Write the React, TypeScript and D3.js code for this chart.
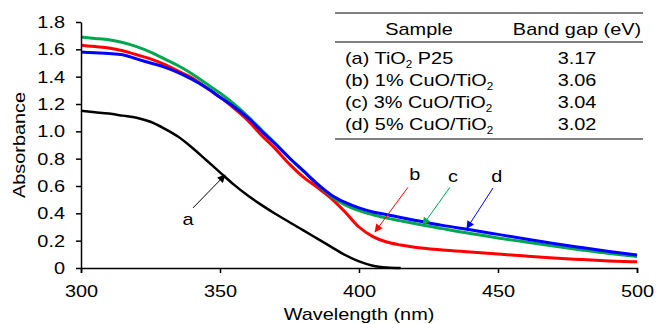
import React, { useEffect, useRef } from "react";
import * as d3 from "d3";

// wavelength grid (nm) for each sample
const waveA = [300, 305, 310, 315, 320, 325, 330, 335, 340, 345, 350, 355, 360, 365, 370, 375, 380, 385, 390, 395, 400, 405, 410, 415];
const absA = [1.15, 1.14, 1.13, 1.115, 1.1, 1.07, 1.02, 0.96, 0.88, 0.79, 0.7, 0.61, 0.53, 0.46, 0.395, 0.335, 0.275, 0.215, 0.155, 0.095, 0.048, 0.017, 0.004, 0];

const waveBCD = [300, 305, 310, 315, 320, 325, 330, 335, 340, 345, 350, 355, 360, 365, 370, 375, 380, 385, 390, 395, 400, 405, 410, 415, 420, 430, 440, 450, 460, 470, 480, 490, 500];
const absB = [1.63, 1.62, 1.61, 1.59, 1.56, 1.53, 1.49, 1.44, 1.39, 1.32, 1.25, 1.17, 1.08, 0.97, 0.87, 0.76, 0.665, 0.59, 0.51, 0.41, 0.3, 0.23, 0.19, 0.168, 0.152, 0.132, 0.117, 0.102, 0.087, 0.073, 0.062, 0.052, 0.045];
const absC = [1.69, 1.68, 1.67, 1.65, 1.62, 1.58, 1.53, 1.48, 1.42, 1.35, 1.28, 1.2, 1.11, 1.01, 0.91, 0.805, 0.71, 0.615, 0.525, 0.462, 0.42, 0.39, 0.365, 0.345, 0.325, 0.288, 0.252, 0.22, 0.19, 0.16, 0.132, 0.106, 0.085];
const absD = [1.58, 1.575, 1.57, 1.56, 1.53, 1.5, 1.47, 1.43, 1.38, 1.32, 1.25, 1.18, 1.1, 1.0, 0.905, 0.805, 0.71, 0.615, 0.535, 0.48, 0.44, 0.41, 0.39, 0.37, 0.35, 0.312, 0.28, 0.246, 0.212, 0.18, 0.15, 0.121, 0.095];

const xTicks = [300, 350, 400, 450, 500];
const yTicks = [0, 0.2, 0.4, 0.6, 0.8, 1.0, 1.2, 1.4, 1.6, 1.8];

// table contents
const sampleLabels = [
  ["(a) TiO", "2", " P25"],
  ["(b) 1% CuO/TiO", "2", ""],
  ["(c) 3% CuO/TiO", "2", ""],
  ["(d) 5% CuO/TiO", "2", ""],
];
const bandGaps = ["3.17", "3.06", "3.04", "3.02"];

// arrow annotations: label, colour, tail, tip and label position in data units
const arrows = [
  { label: "a", color: "#000000", tail: [340.3, 0.44], tip: [351.8, 0.68], text: [338.5, 0.36] },
  { label: "b", color: "#ff0000", tail: [417.6, 0.59], tip: [405.8, 0.265], text: [420.1, 0.69] },
  { label: "c", color: "#00a650", tail: [432.7, 0.59], tip: [423.0, 0.315], text: [433.8, 0.67] },
  { label: "d", color: "#0000ff", tail: [448.2, 0.585], tip: [438.8, 0.29], text: [449.6, 0.67] },
];

const App = () => {
  const svgRef = useRef(null);
  const width = 658;
  const height = 324;
  const marginLeft = 81;
  const marginRight = 21;
  const marginTop = 22;
  const marginBottom = 56;
  const font = "'Liberation Sans', Arial, Helvetica, sans-serif";
  const fs = "17px";
  const sx = 1.17; // the original lettering is a little wider than Arial

  useEffect(() => {
    const svg = d3.select(svgRef.current);
    svg.selectAll("*").remove();

    const x = d3.scaleLinear().domain([300, 500]).range([marginLeft, width - marginRight]);
    const y = d3.scaleLinear().domain([0, 1.8]).range([height - marginBottom, marginTop]);

    const label = (parent, px, py, str, anchor = "start", extra = "") =>
      parent
        .append("text")
        .attr("transform", `translate(${px},${py})${extra} scale(${sx},1)`)
        .attr("text-anchor", anchor)
        .style("font-family", font)
        .style("font-size", fs)
        .text(str);

    // arrowhead markers
    const defs = svg.append("defs");
    arrows.forEach((a, i) => {
      defs
        .append("marker")
        .attr("id", "arr" + i)
        .attr("viewBox", "0 0 10 10")
        .attr("refX", 9)
        .attr("refY", 5)
        .attr("markerWidth", 9)
        .attr("markerHeight", 8)
        .attr("markerUnits", "userSpaceOnUse")
        .attr("orient", "auto")
        .append("path")
        .attr("d", "M0,0 L10,5 L0,10 Z")
        .attr("fill", a.color);
    });

    const line = d3
      .line()
      .x((d) => x(d[0]))
      .y((d) => y(d[1]))
      .curve(d3.curveMonotoneX);

    const series = [
      { w: waveA, v: absA, color: "#000000", sw: 2.5 },
      { w: waveBCD, v: absB, color: "#ff0000", sw: 3 },
      { w: waveBCD, v: absC, color: "#00a650", sw: 3 },
      { w: waveBCD, v: absD, color: "#0000ff", sw: 3 },
    ];
    series.forEach((s) => {
      svg
        .append("path")
        .datum(s.w.map((w, i) => [w, s.v[i]]))
        .attr("fill", "none")
        .attr("stroke", s.color)
        .attr("stroke-width", s.sw)
        .attr("stroke-linejoin", "round")
        .attr("d", line);
    });

    // X axis
    const xAxis = svg
      .append("g")
      .attr("transform", `translate(0,${height - marginBottom})`)
      .call(d3.axisBottom(x).tickValues(xTicks).tickSize(5).tickSizeOuter(5).tickPadding(12));
    xAxis.select(".domain").attr("stroke-width", 1.5);
    xAxis.selectAll(".tick line").attr("stroke-width", 1.5);
    xAxis
      .selectAll("text")
      .attr("transform", `scale(${sx},1)`)
      .style("font-size", fs)
      .style("font-family", font)
      .attr("fill", "#000");

    // Y axis
    const yAxis = svg
      .append("g")
      .attr("transform", `translate(${marginLeft},0)`)
      .call(
        d3
          .axisLeft(y)
          .tickValues(yTicks)
          .tickSize(5)
          .tickSizeOuter(0)
          .tickFormat((d) => (d === 0 ? "0" : d3.format(".1f")(d)))
      );
    yAxis.select(".domain").attr("stroke-width", 1.5);
    yAxis.selectAll(".tick line").attr("stroke-width", 1.5);
    yAxis
      .selectAll("text")
      .attr("x", -16 / sx)
      .attr("transform", `scale(${sx},1)`)
      .style("font-size", fs)
      .style("font-family", font)
      .attr("fill", "#000");

    // axis titles
    label(svg, (marginLeft + width - marginRight) / 2, 320, "Wavelength (nm)", "middle");
    label(svg, 25, (marginTop + height - marginBottom) / 2, "Absorbance", "middle", " rotate(-90)");

    // annotation arrows
    arrows.forEach((a, i) => {
      svg
        .append("line")
        .attr("x1", x(a.tail[0]))
        .attr("y1", y(a.tail[1]))
        .attr("x2", x(a.tip[0]))
        .attr("y2", y(a.tip[1]))
        .attr("stroke", a.color)
        .attr("stroke-width", 1)
        .attr("marker-end", `url(#arr${i})`);
      label(svg, x(a.text[0]), y(a.text[1]) + 6, a.label, "middle");
    });

    // band gap table
    const table = svg.append("g");
    [13, 42, 139].forEach((ly) => {
      table
        .append("line")
        .attr("x1", 335)
        .attr("x2", 643)
        .attr("y1", ly)
        .attr("y2", ly)
        .attr("stroke", "#000")
        .attr("stroke-width", 1);
    });
    label(table, 419, 35, "Sample", "middle");
    label(table, 577, 35, "Band gap (eV)", "middle");

    const rowY = [64, 86, 108, 130];
    sampleLabels.forEach((parts, i) => {
      const t = label(table, 345, rowY[i], "");
      t.append("tspan").text(parts[0]);
      t.append("tspan").attr("dy", 4).style("font-size", "10px").text(parts[1]);
      if (parts[2]) t.append("tspan").attr("dy", -4).text(parts[2]);
      label(table, 577, rowY[i], bandGaps[i], "middle");
    });
  }, []);

  return (
    <div>
      <svg
        ref={svgRef}
        width={width}
        height={height}
        style={{ position: "absolute", left: 0, top: 0, background: "#fff" }}
      ></svg>
    </div>
  );
};

export default App;
